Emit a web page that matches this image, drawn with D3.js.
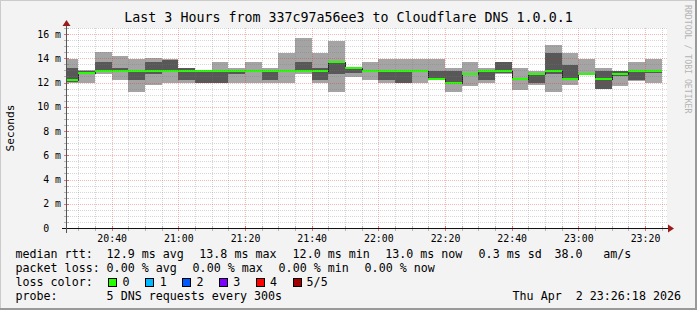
<!DOCTYPE html>
<html><head><meta charset="utf-8">
<script src="https://cdn.jsdelivr.net/npm/d3@7"></script>
<style>
html,body{margin:0;padding:0;background:#f3f3f3;}
svg{display:block;}
text{font-family:"DejaVu Sans Mono",monospace;white-space:pre;fill:#000;}
</style></head><body>
<svg id="c" width="697" height="310"></svg>
<script>
// ---------- data ----------
const title = "Last 3 Hours from 337c97a56ee3 to Cloudflare DNS 1.0.0.1";
const yAxisTitle = "Seconds";
const watermark = "RRDTOOL / TOBI OETIKER";
const timeStart = "2026-04-02 20:26:18";
const timeEnd = "2026-04-02 23:26:18";
const binEnds = ["20:30","20:35","20:40","20:45","20:50","20:55","21:00","21:05","21:10","21:15","21:20","21:25",
  "21:30","21:35","21:40","21:45","21:50","21:55","22:00","22:05","22:10","22:15","22:20","22:25",
  "22:30","22:35","22:40","22:45","22:50","22:55","23:00","23:05","23:10","23:15","23:20","23:25"];
// sorted ping round-trip times (ms), ping1 = fastest, ping3 = median, ping5 = slowest
const ping1 = [12.0,12.0,12.7,12.2,11.25,11.77,11.93,11.93,11.93,11.93,11.95,11.97,
  11.97,11.97,12.7,11.97,11.25,12.48,12.2,11.97,11.93,11.93,12.2,11.25,
  11.74,11.93,12.7,11.42,11.8,11.25,11.76,12.68,11.48,11.74,12.1,11.95];
const ping2 = [12.05,12.75,12.9,12.9,12.2,12.7,12.9,12.23,11.95,11.95,12.7,12.9,
  12.2,12.9,12.9,12.2,12.7,12.8,12.9,12.2,11.95,12.9,12.21,11.9,
  12.6,12.23,12.75,12.2,12.0,12.7,12.2,12.7,11.5,12.5,12.2,12.8];
const ping3 = [12.2,12.8,12.95,12.95,12.95,12.95,12.95,12.95,12.95,12.95,12.95,12.95,
  12.95,12.95,12.97,12.95,13.69,13.2,12.95,12.95,12.95,12.95,12.26,11.95,
  12.73,12.95,12.95,12.27,12.73,12.95,12.26,12.73,12.26,12.73,12.95,12.95];
const ping4 = [13.2,12.95,13.66,13.2,13.0,13.68,13.9,13.2,12.97,12.97,13.05,13.0,
  13.0,13.0,13.69,13.2,13.7,13.21,13.0,13.0,13.0,13.0,12.95,12.95,
  12.8,13.0,13.69,12.4,12.8,14.43,13.44,12.8,12.95,12.95,13.0,13.0];
const ping5 = [13.95,13.0,14.52,14.2,13.94,14.0,13.96,13.22,12.99,13.69,13.2,13.69,
  13.2,14.43,15.67,14.43,15.42,13.22,13.69,13.94,13.94,13.94,13.96,13.2,
  13.69,13.2,13.7,13.2,12.95,15.1,14.43,13.96,13.2,12.97,13.69,13.96];
const lossCount = new Array(36).fill(0);
const yTickValues = [0,2,4,6,8,10,12,14,16];
const yTickLabels = ["0  ","2 m","4 m","6 m","8 m","10 m","12 m","14 m","16 m"];
const xTickLabels = ["20:40","21:00","21:20","21:40","22:00","22:20","22:40","23:00","23:20"];
const medianStats = ["12.9 ms avg","13.8 ms max","12.0 ms min","13.0 ms now","0.3 ms sd","38.0","am/s"];
const lossStats = ["0.00 % avg","0.00 % max","0.00 % min","0.00 % now"];
const lossColorLabels = ["0","1","2","3","4","5/5"];
const lossColors = ["#26ff00","#00b8ff","#0059ff","#7e00ff","#ff0000","#a10000"];
const rowLabels = ["median rtt:","packet loss:","loss color:","probe:"];
const probeText = "5 DNS requests every 300s";
const dateText = "Thu Apr  2 23:26:18 2026";

// ---------- layout ----------
const W = 697, H = 310;
const L = 66, R = 666, T = 28, B = 228;
const svg = d3.select("#c");
const parseFull = d3.timeParse("%Y-%m-%d %H:%M:%S");
const parseHM = s => parseFull("2026-04-02 " + s + ":00");
const t0 = parseFull(timeStart), t1 = parseFull(timeEnd);
const x = d3.scaleTime().domain([t0, t1]).range([L, R]);
const y = d3.scaleLinear().domain([0, 16.5]).range([B, T]);

// background & border
svg.append("rect").attr("x",0).attr("y",0).attr("width",W).attr("height",H).attr("fill","#f3f3f3");
svg.append("path").attr("d",`M0,${H} V0 H${W}`).attr("stroke","#cbcbcb").attr("stroke-width",2).attr("fill","none");
svg.append("path").attr("d",`M0,${H-1} H${W-1} V0`).attr("stroke","#999").attr("stroke-width",2).attr("fill","none");
svg.append("rect").attr("x",L).attr("y",T).attr("width",R-L+1).attr("height",B-T).attr("fill","#fff");

// ---------- data marks ----------
const bins = binEnds.map((e,i)=>{
  const end = parseHM(e);
  const start = new Date(Math.max(+t0, +end - 5*60*1000));
  return {start, end, p1:ping1[i], p2:ping2[i], p3:ping3[i], p4:ping4[i], p5:ping5[i], loss:lossCount[i]};
});
const bx = d=>Math.round(x(d.start)), bw = d=>Math.round(x(d.end))-Math.round(x(d.start));
const gData = svg.append("g").attr("shape-rendering","crispEdges");
gData.append("g").selectAll("rect").data(bins).join("rect")
  .attr("x",bx).attr("width",bw)
  .attr("y",d=>Math.round(y(d.p5))).attr("height",d=>Math.round(y(d.p1))-Math.round(y(d.p5)))
  .attr("fill","#a4a4a4");
gData.append("g").selectAll("rect").data(bins).join("rect")
  .attr("x",bx).attr("width",bw)
  .attr("y",d=>Math.round(y(d.p4))).attr("height",d=>Math.max(1,Math.round(y(d.p2))-Math.round(y(d.p4))))
  .attr("fill","#585858");
// median step line
const stepPts = bins.map(d=>[Math.round(x(d.start))+0.5, Math.round(y(d.p3))+0.5]);
stepPts.push([Math.round(x(bins[bins.length-1].end))-0.5, Math.round(y(bins[bins.length-1].p3))+0.5]);
gData.append("path").attr("d", d3.line().curve(d3.curveStepAfter)(stepPts))
  .attr("fill","none").attr("stroke","#202020").attr("stroke-width",1);
// median band coloured by loss
gData.append("g").selectAll("rect").data(bins).join("rect")
  .attr("x",bx).attr("width",bw)
  .attr("y",d=>Math.round(y(d.p3))-1).attr("height",2)
  .attr("fill",d=>lossColors[d.loss]);

// ---------- grid (drawn over data) ----------
const minorCol = "rgba(120,120,120,0.3)", majorCol = "rgba(220,40,40,0.32)";
const gGrid = svg.append("g").attr("shape-rendering","crispEdges").attr("stroke-dasharray","1,1");
const minorT = d3.timeMinute.every(5).range(t0, t1);
const majorT = d3.timeMinute.every(20).range(t0, t1);
gGrid.append("g").selectAll("line").data(minorT.filter(t=>t.getMinutes()%20!==0)).join("line")
  .attr("x1",d=>Math.round(x(d))+0.5).attr("x2",d=>Math.round(x(d))+0.5).attr("y1",T).attr("y2",B)
  .attr("stroke",minorCol);
const yMinor = d3.range(0.5, 16.51, 0.5).filter(v=>v%2!==0);
gGrid.append("g").selectAll("line").data(yMinor).join("line")
  .attr("x1",L).attr("x2",R+2).attr("y1",d=>Math.round(y(d))+0.5).attr("y2",d=>Math.round(y(d))+0.5)
  .attr("stroke",minorCol);
gGrid.append("g").selectAll("line").data(majorT).join("line")
  .attr("x1",d=>Math.round(x(d))+0.5).attr("x2",d=>Math.round(x(d))+0.5).attr("y1",T).attr("y2",B)
  .attr("stroke",majorCol);
gGrid.append("g").selectAll("line").data(yTickValues.filter(v=>v>0)).join("line")
  .attr("x1",L).attr("x2",R+2).attr("y1",d=>Math.round(y(d))+0.5).attr("y2",d=>Math.round(y(d))+0.5)
  .attr("stroke",majorCol);

// ---------- axes ----------
const gAx = svg.append("g").attr("shape-rendering","crispEdges");
gAx.append("g").selectAll("line").data(minorT).join("line")
  .attr("x1",d=>Math.round(x(d))+0.5).attr("x2",d=>Math.round(x(d))+0.5).attr("y1",226).attr("y2",231)
  .attr("stroke",d=>d.getMinutes()%20===0?"rgba(215,30,30,0.6)":"rgba(120,120,120,0.5)");
gAx.append("g").selectAll("line").data(d3.range(0.5,16.51,0.5)).join("line")
  .attr("x1",64).attr("x2",69).attr("y1",d=>Math.round(y(d))+0.5).attr("y2",d=>Math.round(y(d))+0.5)
  .attr("stroke",d=>d%2===0?"rgba(215,30,30,0.6)":"rgba(120,120,120,0.5)");
gAx.append("line").attr("x1",62).attr("x2",670).attr("y1",Math.round(y(0))+0.5).attr("y2",Math.round(y(0))+0.5).attr("stroke","#111");
gAx.append("line").attr("x1",66.5).attr("x2",66.5).attr("y1",233).attr("y2",25).attr("stroke","#555");
svg.append("path").attr("d","M668,224.5 L674,228.5 L668,232.5 Z").attr("fill","#9b1a1a");
svg.append("path").attr("d","M62.5,26 L66.5,20 L70.5,26 Z").attr("fill","#9b1a1a");

// tick labels
svg.append("g").selectAll("text").data(yTickValues).join("text")
  .attr("x",61).attr("y",d=>y(d)+3.6).attr("text-anchor","end").attr("font-size","9.9px")
  .text((d,i)=>yTickLabels[i]);
const xTickDates = xTickLabels.map(parseHM);
svg.append("g").selectAll("text").data(xTickDates).join("text")
  .attr("x",d=>x(d)+0.5).attr("y",242).attr("text-anchor","middle").attr("font-size","9.9px")
  .text((d,i)=>xTickLabels[i]);

// titles
svg.append("text").attr("x",348.5).attr("y",22).attr("text-anchor","middle").attr("font-size","13.3px").text(title);
svg.append("text").attr("transform","translate(14,128) rotate(-90)").attr("text-anchor","middle").attr("font-size","11.2px").text(yAxisTitle);
svg.append("text").attr("transform","translate(685,5) rotate(90)").attr("text-anchor","start").attr("font-size","8.2px")
  .style("fill","#b4b4b4").text(watermark);

// ---------- legend ----------
const fs = "11.66px";
const rowY = [258, 272, 286, 300];
rowLabels.forEach((s,i)=>svg.append("text").attr("x",15.5).attr("y",rowY[i]).attr("font-size",fs).text(s));
const medX = [106.6, 199.3, 292.6, 385.2, 478.6, 554.5, 603.3];
medianStats.forEach((s,i)=>svg.append("text").attr("x",medX[i]).attr("y",rowY[0]).attr("font-size",fs).text(s));
const lossX = [106.6, 192.6, 278.6, 364.6];
lossStats.forEach((s,i)=>svg.append("text").attr("x",lossX[i]).attr("y",rowY[1]).attr("font-size",fs).text(s));
const boxX = [108.5, 145.5, 182.5, 219.5, 256.5, 293.5];
const labX = [122.6, 159.8, 196.6, 233.3, 270, 306.6];
lossColorLabels.forEach((s,i)=>{
  svg.append("rect").attr("x",boxX[i]).attr("y",278.5).attr("width",8).attr("height",8)
    .attr("fill",lossColors[i]).attr("stroke","#000").attr("stroke-width",1).attr("shape-rendering","crispEdges");
  svg.append("text").attr("x",labX[i]).attr("y",rowY[2]).attr("font-size",fs).text(s);
});
svg.append("text").attr("x",106.6).attr("y",rowY[3]).attr("font-size",fs).text(probeText);
svg.append("text").attr("x",681).attr("y",rowY[3]).attr("text-anchor","end").attr("font-size",fs).text(dateText);
</script>
</body></html>
